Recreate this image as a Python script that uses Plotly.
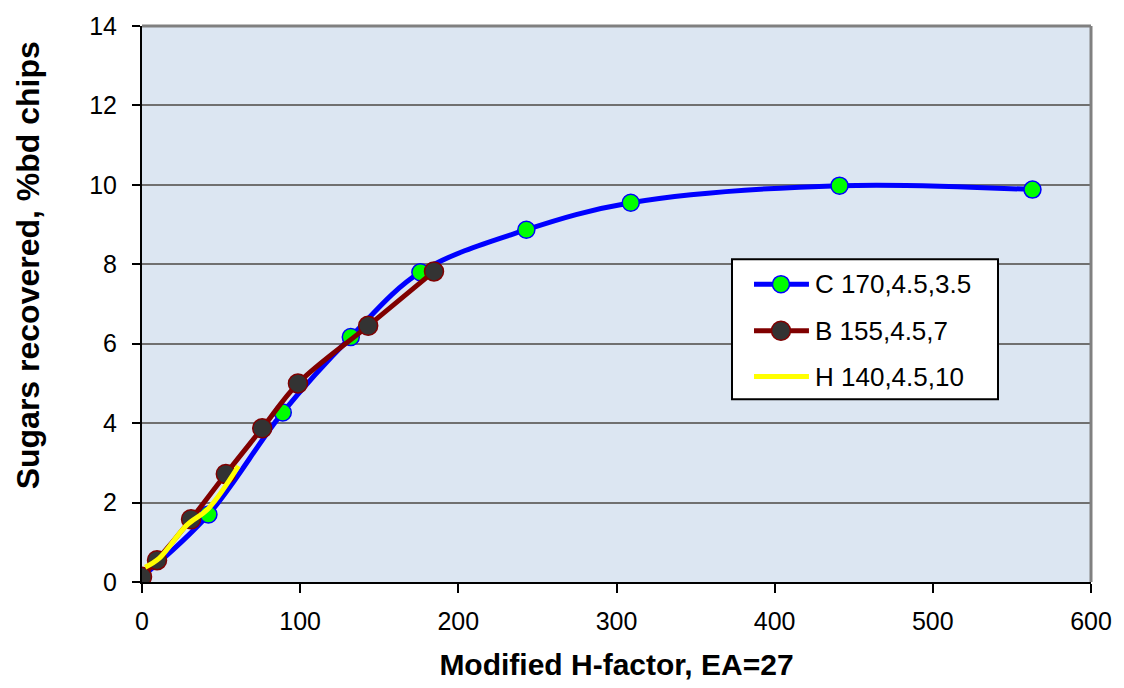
import plotly.graph_objects as go

# Series C 170,4.5,3.5
c_x = [0, 42, 89, 132, 176, 243, 309, 441, 563]
c_y = [0.13, 1.70, 4.27, 6.17, 7.80, 8.87, 9.55, 9.98, 9.88]

# Series B 155,4.5,7
b_x = [0, 9.5, 31, 53, 76, 98.6, 143, 184.6]
b_y = [0.13, 0.55, 1.58, 2.72, 3.87, 5.00, 6.45, 7.82]

# Series H 140,4.5,10 (line only)
h_x = [2, 11, 28, 42, 61]
h_y = [0.37, 0.60, 1.42, 1.85, 2.92]

x_ticks = [0, 100, 200, 300, 400, 500, 600]
y_ticks = [0, 2, 4, 6, 8, 10, 12, 14]

FONT = "Liberation Sans, Arial, sans-serif"

series = [
    dict(name="C 170,4.5,3.5", x=c_x, y=c_y, line="#0000FF",
         marker="#00FF00", edge="#0000FF", size=17),
    dict(name="B 155,4.5,7", x=b_x, y=b_y, line="#800000",
         marker="#333333", edge="#800000", size=19),
    dict(name="H 140,4.5,10", x=h_x, y=h_y, line="#FFFF00",
         marker=None, edge=None, size=0),
]

fig = go.Figure()
for s in series:
    has_marker = s["marker"] is not None
    fig.add_trace(go.Scatter(
        x=s["x"], y=s["y"], name=s["name"],
        mode="lines+markers" if has_marker else "lines",
        line=dict(color=s["line"], width=5, shape="spline", smoothing=1.0),
        marker=dict(size=s["size"], color=s["marker"],
                    line=dict(color=s["edge"], width=1.5)) if has_marker else None,
        showlegend=False,
    ))

fig.update_layout(
    width=1124, height=688,
    margin=dict(l=142, r=33, t=22, b=106),
    paper_bgcolor="white",
    plot_bgcolor="#DCE6F2",
    font=dict(family=FONT, size=25, color="black"),
    showlegend=False,
)

fig.update_xaxes(
    range=[0, 600], tickvals=x_ticks, ticktext=[str(v) for v in x_ticks],
    ticks="outside", ticklen=9, tickwidth=1.5, tickcolor="black",
    ticklabelstandoff=7,
    showline=True, linecolor="black", linewidth=2, mirror=False,
    showgrid=False, zeroline=False,
    tickfont=dict(family=FONT, size=25),
    title=dict(text="<b>Modified H-factor, EA=27</b>",
               font=dict(family=FONT, size=30), standoff=20),
)
fig.update_yaxes(
    range=[0, 14], tickvals=y_ticks, ticktext=[str(v) for v in y_ticks],
    ticks="outside", ticklen=8, tickwidth=1.5, tickcolor="black",
    ticklabelstandoff=10,
    showline=True, linecolor="black", linewidth=2, mirror=False,
    showgrid=True, gridcolor="#707070", gridwidth=2, zeroline=False,
    tickfont=dict(family=FONT, size=25),
)

# y-axis title, placed a little above the plot centre
fig.add_annotation(
    xref="paper", yref="paper", x=-0.1201, y=0.5696,
    xanchor="center", yanchor="middle", textangle=-90, showarrow=False,
    text="<b>Sugars recovered, %bd chips</b>",
    font=dict(family=FONT, size=32, color="black"),
)

# gray frame on top and right edges of the plot area
fig.add_shape(type="line", xref="paper", yref="paper", x0=0, x1=1, y0=1, y1=1,
              line=dict(color="#808080", width=3))
fig.add_shape(type="line", xref="paper", yref="paper", x0=1, x1=1, y0=0, y1=1,
              line=dict(color="#808080", width=3))

# legend box
LEG_X0, LEG_X1 = 0.6217, 0.9020
LEG_Y0, LEG_Y1 = 0.3286, 0.5804
fig.add_shape(type="rect", xref="paper", yref="paper",
              x0=LEG_X0, x1=LEG_X1, y0=LEG_Y0, y1=LEG_Y1,
              fillcolor="white", line=dict(color="black", width=2), layer="above")
row_y = [0.5357, 0.4518, 0.3696]
LINE_X0, LINE_X1, MARK_X, TEXT_X = 0.6449, 0.7028, 0.6733, 0.7071
for s, ry in zip(series, row_y):
    fig.add_shape(type="line", xref="paper", yref="paper",
                  x0=LINE_X0, x1=LINE_X1, y0=ry, y1=ry,
                  line=dict(color=s["line"], width=5), layer="above")
    if s["marker"] is not None:
        r = s["size"] / 2
        fig.add_shape(type="circle", xref="paper", yref="paper",
                      xsizemode="pixel", ysizemode="pixel",
                      xanchor=MARK_X, yanchor=ry,
                      x0=-r, x1=r, y0=-r, y1=r,
                      fillcolor=s["marker"], line=dict(color=s["edge"], width=1.5),
                      layer="above")
    fig.add_annotation(xref="paper", yref="paper", x=TEXT_X, y=ry,
                       xanchor="left", yanchor="middle", showarrow=False,
                       text=s["name"], font=dict(family=FONT, size=26, color="black"))

fig.write_html("out.html")
